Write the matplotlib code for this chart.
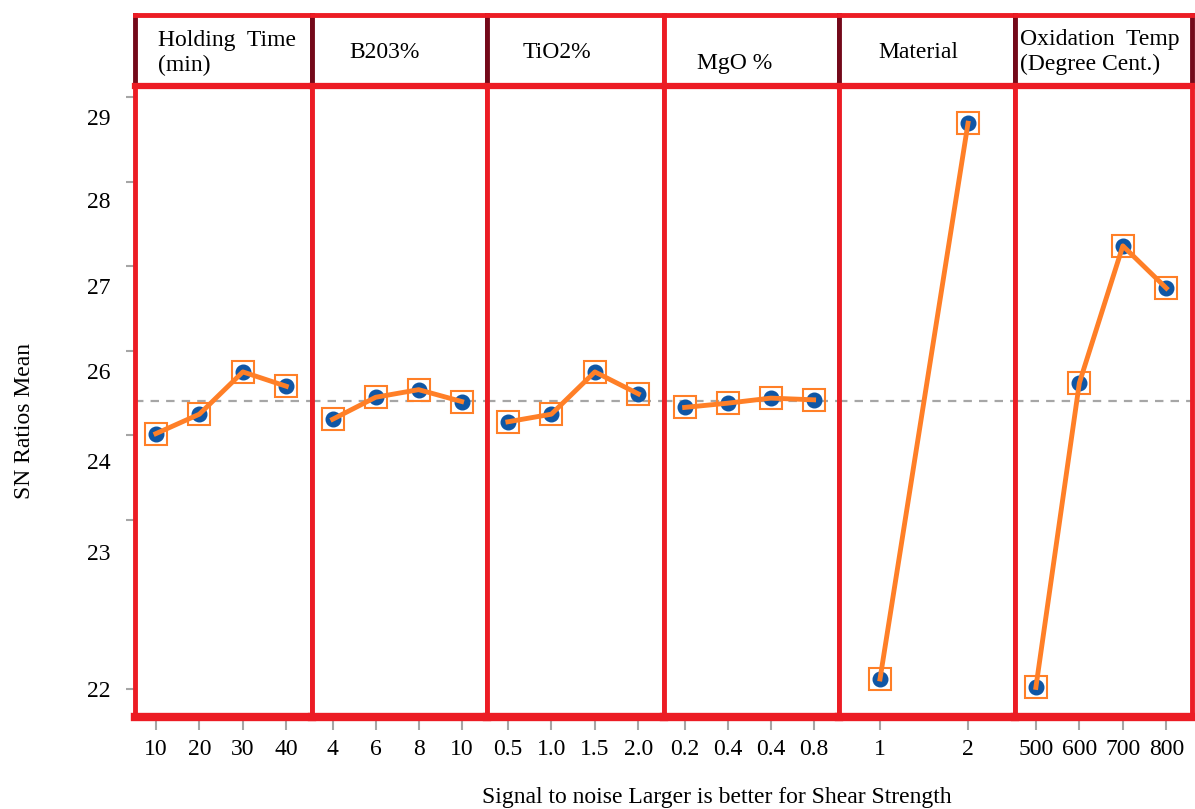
import numpy as np
import matplotlib
matplotlib.use("Agg")
import matplotlib.pyplot as plt
from matplotlib.transforms import ScaledTranslation

plt.rcParams['font.family'] = ['Liberation Serif', 'DejaVu Serif']

# factores (encabezados) y niveles
factors = ["Holding  Time\n(min)", "B203%", "TiO2%", "MgO %", "Material",
           "Oxidation  Temp\n(Degree Cent.)"]
levels = [["10", "20", "30", "40"],
          ["4", "6", "8", "10"],
          ["0.5", "1.0", "1.5", "2.0"],
          ["0.2", "0.4", "0.4", "0.8"],
          ["1", "2"],
          ["500", "600", "700", "800"]]

# SN ratios
holding = [25.02, 25.25, 25.75, 25.58]
b2o3 = [25.19, 25.45, 25.54, 25.40]
tio2 = [25.16, 25.25, 25.75, 25.49]
mgo = [25.33, 25.38, 25.44, 25.42]
material = [22.12, 28.69]
oxidation = [22.02, 25.62, 27.24, 26.74]
series = [holding, b2o3, tio2, mgo, material, oxidation]

# eje y tal como aparece (las etiquetas estan corridas en el original)
yticks = [29, 28, 27, 26, 25, 24, 22]
yticklabels = ["29", "28", "27", "26", "24", "23", "22"]

grand_mean = np.mean(np.concatenate([np.array(s) for s in series]))

RED = "#ec1c24"
DARK = "#74091a"
ORANGE = "#ff7f27"
BLUE = "#0f56a5"
GRAY = "#a6a6a6"

W, H = 1195, 809
fig = plt.figure(figsize=(W / 100, H / 100), dpi=100)


def fx(px):
    return px / W


def fy(py):
    return 1 - py / H


edges = [135, 312, 487, 664, 839, 1015, 1192]
head_edge_colors = [DARK, DARK, DARK, RED, DARK, DARK, DARK]
y_head, y_top, y_bot = 15, 86, 717
head_x = [158, 349, 523, 697, 878, 1020]
head_y = [53, 52, 52, 63, 53, 52]

for i, (vals, labs) in enumerate(zip(series, levels)):
    x0, x1 = edges[i], edges[i + 1]
    ax = fig.add_axes([fx(x0), fy(y_bot), fx(x1 - x0), (y_bot - y_top) / H])
    xs = np.arange(len(vals))
    ax.axhline(grand_mean, color=GRAY, lw=1.6, dashes=(3.8, 3.2), zorder=1)
    ax.plot(xs, vals, 'o', color=BLUE, ms=10.5, zorder=2)
    ax.plot(xs, vals, '-', color=ORANGE, lw=3.5, zorder=3)
    ax.plot(xs, vals, 's', mfc='none', mec=ORANGE, ms=16, mew=1.5, zorder=4)
    if len(vals) == 2:
        ax.set_xlim(-0.466, 1.534)
    else:
        ax.set_xlim(-0.48, 3.59)
    ax.set_ylim(21.67, 29.13)
    ax.set_xticks(xs)
    ax.set_xticklabels(labs, fontsize=17)
    ax.tick_params(axis='x', length=9, width=1.5, color=GRAY, pad=7)
    for s in ax.spines.values():
        s.set_color(RED)
        s.set_linewidth(3.5)
    ax.spines['bottom'].set_linewidth(6)
    if i == 0:
        ax.set_yticks(yticks)
        ax.set_yticklabels(yticklabels, fontsize=17)
        ax.tick_params(axis='y', length=6.5, width=1.5, color=GRAY, pad=11)
        shifts = [20, 18, 20, 20, 26, 32, 0]
        for lab, d in zip(ax.get_yticklabels(), shifts):
            lab.set_transform(lab.get_transform() +
                              ScaledTranslation(0, -d / 100, fig.dpi_scale_trans))
    else:
        ax.set_yticks([])

    # fila de encabezado
    hx = fig.add_axes([fx(x0), fy(y_top), fx(x1 - x0), (y_top - y_head) / H])
    hx.set_xticks([])
    hx.set_yticks([])
    for s in hx.spines.values():
        s.set_linewidth(3.5)
    hx.spines['top'].set_color(RED)
    hx.spines['bottom'].set_color(RED)
    hx.spines['bottom'].set_linewidth(4.5)
    hx.spines['left'].set_color(head_edge_colors[i])
    hx.spines['right'].set_color(head_edge_colors[i + 1])
    fig.text(fx(head_x[i]), fy(head_y[i]), factors[i], fontsize=17,
             ha='left', va='center', linespacing=1.2)

fig.text(fx(25), fy(421), "SN Ratios Mean", fontsize=17, rotation=90,
         ha='center', va='center')
fig.text(fx(717), fy(797), "Signal to noise Larger is better for Shear Strength",
         fontsize=17, ha='center', va='center')

fig.savefig("out.png", dpi=100)
